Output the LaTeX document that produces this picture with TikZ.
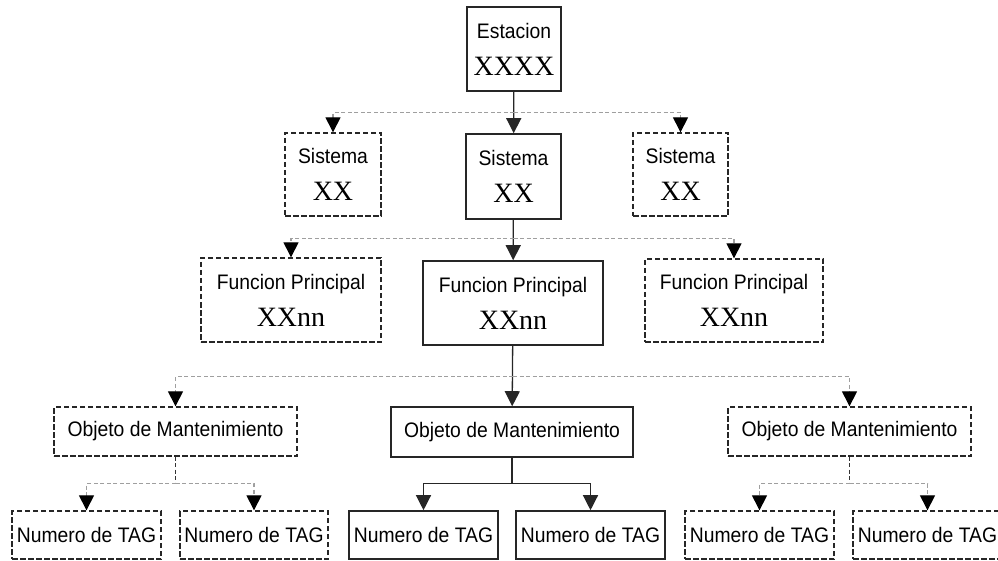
\documentclass[tikz,border=0pt]{standalone}
\usepackage{fontspec}
\setsansfont[FakeStretch=0.92]{Liberation Sans}
\newfontfamily\serifx{Liberation Serif}
\usepackage{tikz}
\usetikzlibrary{arrows.meta}

\tikzset{
  box/.style={draw=black!85, line width=1.6pt, inner sep=0pt, align=center,
    font=\sffamily\fontsize{21}{37}\selectfont},
  dbox/.style={box, line width=1.3pt, dash pattern=on 5.5pt off 2.5pt},
  conn/.style={draw=black!85, line width=1.3pt, -{Triangle[width=15pt,length=15pt]}},
  dconn/.style={draw=gray!75, line width=1.1pt, dash pattern=on 4pt off 2.5pt,
    -{Triangle[color=black,width=15pt,length=15pt]}},
  stub/.style={draw=black!80, line width=1.2pt, dash pattern=on 4pt off 2.5pt},
}
\newcommand{\cod}[1]{{\serifx\fontsize{28}{37}\selectfont #1}}

\begin{document}
\begin{tikzpicture}[x=1pt,y=-1pt,>=Stealth]
  \useasboundingbox (0,0) rectangle (998,561);
  % estacion
  \node[box, minimum width=94pt, minimum height=84pt] (est) at (514,49)
    {Estacion\\\cod{XXXX}};
  % sistemas
  \node[dbox, minimum width=96pt, minimum height=83pt] (sisL) at (333,174.5)
    {Sistema\\\cod{XX}};
  \node[box, minimum width=95pt, minimum height=85pt] (sisC) at (513.5,176.5)
    {Sistema\\\cod{XX}};
  \node[dbox, minimum width=95pt, minimum height=83pt] (sisR) at (680.5,174.5)
    {Sistema\\\cod{XX}};
  % funciones principales
  \node[dbox, minimum width=180pt, minimum height=84pt] (funL) at (291,300)
    {Funcion Principal\\\cod{XXnn}};
  \node[box, minimum width=180pt, minimum height=84pt] (funC) at (513,303)
    {Funcion Principal\\\cod{XXnn}};
  \node[dbox, minimum width=178pt, minimum height=83pt] (funR) at (734,300.5)
    {Funcion Principal\\\cod{XXnn}};
  % objetos de mantenimiento
  \node[dbox, minimum width=243pt, minimum height=49pt] (objL) at (175.5,431.5)
    {Objeto de Mantenimiento};
  \node[box, minimum width=242pt, minimum height=50pt] (objC) at (512,432)
    {Objeto de Mantenimiento};
  \node[dbox, minimum width=243pt, minimum height=49pt] (objR) at (849.5,431.5)
    {Objeto de Mantenimiento};
  % numeros de TAG
  \node[dbox, minimum width=149pt, minimum height=48pt] (tag1) at (86.5,535) {Numero de TAG};
  \node[dbox, minimum width=148pt, minimum height=48pt] (tag2) at (254,535) {Numero de TAG};
  \node[box, minimum width=149pt, minimum height=48pt] (tag3) at (423.5,535) {Numero de TAG};
  \node[box, minimum width=149pt, minimum height=48pt] (tag4) at (590.5,535) {Numero de TAG};
  \node[dbox, minimum width=149pt, minimum height=48pt] (tag5) at (759.5,535) {Numero de TAG};
  \node[dbox, minimum width=149pt, minimum height=48pt] (tag6) at (927.5,535) {Numero de TAG};

  % estacion -> sistemas
  \draw[conn] (est) -- (sisC);
  \draw[dconn] (est.south) ++(0,21) -| (sisL.north);
  \draw[dconn] (est.south) ++(0,21) -| (sisR.north);
  % sistema -> funciones
  \draw[conn] (sisC) -- (funC);
  \draw[dconn] (sisC.south) ++(0,19) -| (funL.north);
  \draw[dconn] (sisC.south) ++(0,19) -| (funR.north);
  % funcion -> objetos
  \draw[conn] (funC) -- (objC);
  \draw[dconn] (funC.south) ++(0,31) -| (objL.north);
  \draw[dconn] (funC.south) ++(0,31) -| (objR.north);
  % objetos -> TAG
  \draw[stub] (objL.south) -- ++(0,27) coordinate (jL);
  \draw[dconn] (jL) -| (tag1.north);
  \draw[dconn] (jL) -| (tag2.north);
  \draw[draw=black!85, line width=1.3pt] (objC.south) -- ++(0,26) coordinate (jC);
  \draw[conn] (jC) -| (tag3.north);
  \draw[conn] (jC) -| (tag4.north);
  \draw[stub] (objR.south) -- ++(0,27) coordinate (jR);
  \draw[dconn] (jR) -| (tag5.north);
  \draw[dconn] (jR) -| (tag6.north);
\end{tikzpicture}
\end{document}
